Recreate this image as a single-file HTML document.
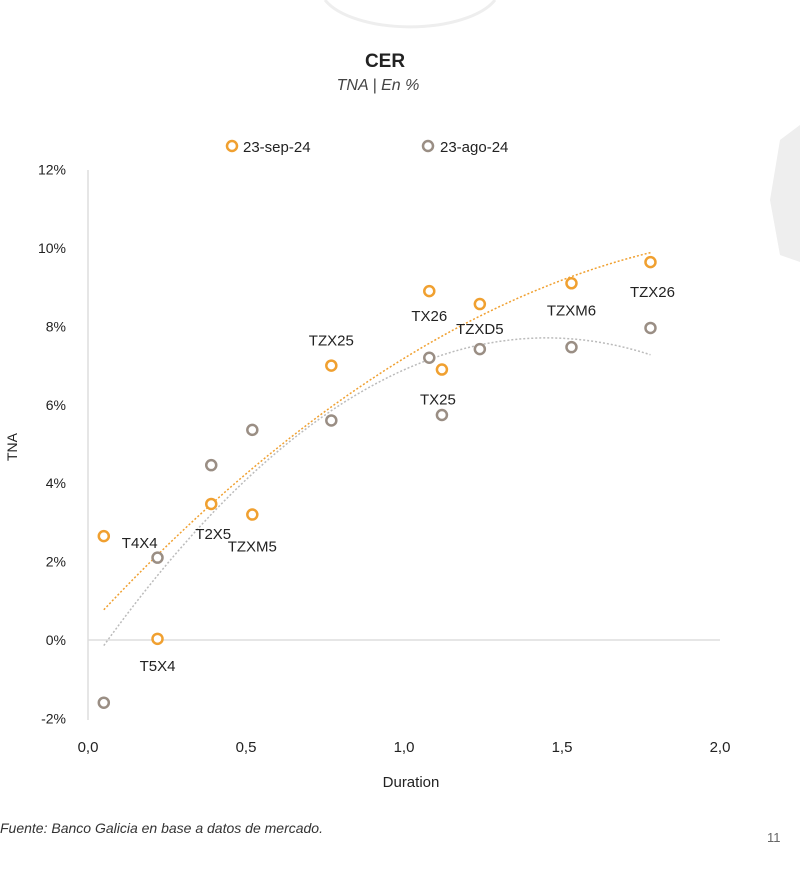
<!DOCTYPE html>
<html><head><meta charset="utf-8"><style>
body{margin:0;background:#fff;width:800px;height:867px;overflow:hidden;font-family:"Liberation Sans",sans-serif}
</style></head><body>
<svg width="800" height="867" id="svg" font-family="Liberation Sans, sans-serif">
<path d="M325,0 A90,40 0 0 0 495,0" fill="none" stroke="#eee" stroke-width="3"/>
<path d="M800,125 L780,140 L770,200 L780,255 L800,262 Z" fill="#eeeeee"/>
<text x="385" y="67" text-anchor="middle" font-size="19" font-weight="bold" fill="#222">CER</text>
<text x="378" y="90" text-anchor="middle" font-size="16" font-style="italic" fill="#444">TNA | En %</text>
<g>
<circle cx="232" cy="146" r="5" fill="none" stroke="#f0a030" stroke-width="2.5"/>
<text x="243" y="152" font-size="15" fill="#222">23-sep-24</text>
<circle cx="428" cy="146" r="5" fill="none" stroke="#9a8e84" stroke-width="2.5"/>
<text x="440" y="152" font-size="15" fill="#222">23-ago-24</text>
</g>
<line x1="88" y1="170" x2="88" y2="720" stroke="#ddd" stroke-width="1.5"/>
<g id="ticks"></g><g id="marks"></g>
<text x="411" y="787" text-anchor="middle" font-size="15" fill="#222">Duration</text>
<text transform="translate(17,447) rotate(-90)" text-anchor="middle" font-size="14" fill="#222">TNA</text>
<text x="0" y="833" font-size="14" font-style="italic" fill="#333">Fuente: Banco Galicia en base a datos de mercado.</text>
<text x="767" y="842" font-size="13" fill="#666">11</text>
</svg>
<script>
const labels=["T4X4","T5X4","T2X5","TZXM5","TZX25","TX26","TX25","TZXD5","TZXM6","TZX26"];
const duration=[0.05,0.22,0.39,0.52,0.77,1.08,1.12,1.24,1.53,1.78];
const tnaSep=[2.65,0.03,3.47,3.2,7.0,8.9,6.9,8.57,9.1,9.64];
const tnaAgo=[-1.6,2.1,4.46,5.36,5.6,7.2,5.74,7.42,7.47,7.96];
const xTicks=[0,0.5,1.0,1.5,2.0];
const yTicks=[-2,0,2,4,6,8,10,12];
const X=v=>88+v*316, Y=v=>640-v*39.2;
const NS="http://www.w3.org/2000/svg";
const tk=document.getElementById('ticks'), mk=document.getElementById('marks');
function el(t,a,p){const e=document.createElementNS(NS,t);for(const k in a)e.setAttribute(k,a[k]);p.appendChild(e);return e;}
yTicks.forEach(v=>{const t=el('text',{x:66,y:Y(v)+5,'text-anchor':'end','font-size':14,fill:'#222'},tk);t.textContent=v+'%';

});
xTicks.forEach(v=>{const t=el('text',{x:X(v),y:752,'text-anchor':'middle','font-size':15,fill:'#222'},tk);t.textContent=v.toFixed(1).replace('.',',');

});
const g0=el('line',{x1:88,x2:720,y1:Y(0),y2:Y(0),stroke:'#ddd','stroke-width':1.5},tk);


function fit(xs,ys){let S=[0,0,0,0,0],T=[0,0,0];xs.forEach((x,i)=>{for(let k=0;k<5;k++)S[k]+=x**k;for(let k=0;k<3;k++)T[k]+=ys[i]*x**k;});
const A=[[S[0],S[1],S[2],T[0]],[S[1],S[2],S[3],T[1]],[S[2],S[3],S[4],T[2]]];
for(let i=0;i<3;i++){for(let j=i+1;j<3;j++){const f=A[j][i]/A[i][i];for(let k=i;k<4;k++)A[j][k]-=f*A[i][k];}}
const c=[0,0,0];for(let i=2;i>=0;i--){let s=A[i][3];for(let k=i+1;k<3;k++)s-=A[i][k]*c[k];c[i]=s/A[i][i];}return c;}
function trend(ys,col,name){const c=fit(duration,ys);let d='';const a=Math.min(...duration),b=Math.max(...duration);
for(let i=0;i<=50;i++){const x=a+(b-a)*i/50;d+=(i?'L':'M')+X(x)+','+Y(c[0]+c[1]*x+c[2]*x*x);}
const p=el('path',{d,fill:'none',stroke:col,'stroke-width':1.5,'stroke-dasharray':'2,2'},mk);

}
trend(tnaSep,'#f0a030','trendline-sep');trend(tnaAgo,'#bbb','trendline-ago');
tnaAgo.forEach((v,i)=>{const c=el('circle',{cx:X(duration[i]),cy:Y(v),r:5,fill:'#fff',stroke:'#9a8e84','stroke-width':2.5},mk);

});
tnaSep.forEach((v,i)=>{const c=el('circle',{cx:X(duration[i]),cy:Y(v),r:5,fill:'#fff',stroke:'#f0a030','stroke-width':2.5},mk);

});
const off=[[18,12],[0,32],[2,35],[0,37],[0,-20],[0,30],[-4,35],[0,30],[0,32],[2,35]];
const anch=['start','middle','middle','middle','middle','middle','middle','middle','middle','middle'];
labels.forEach((l,i)=>{const t=el('text',{x:X(duration[i])+off[i][0],y:Y(tnaSep[i])+off[i][1],'text-anchor':anch[i],'font-size':15,fill:'#222'},mk);t.textContent=l;

});
</script>
</body></html>
